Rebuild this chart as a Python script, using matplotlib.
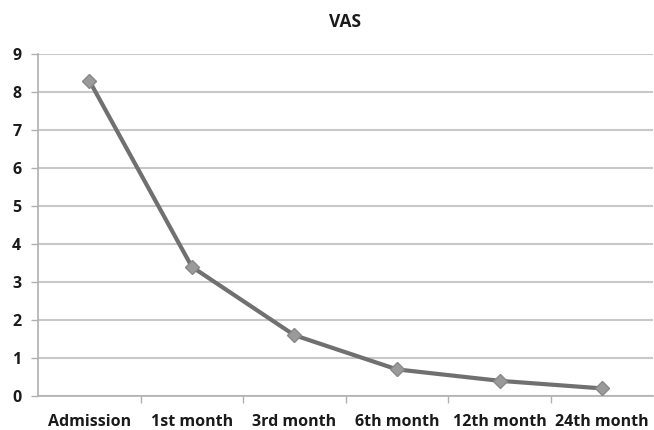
import matplotlib
matplotlib.use("Agg")
import matplotlib.pyplot as plt
import numpy as np

categories = ["Admission", "1st month", "3rd month", "6th month", "12th month", "24th month"]
vas = [8.3, 3.4, 1.6, 0.7, 0.4, 0.2]
yticks = [0, 1, 2, 3, 4, 5, 6, 7, 8, 9]

plt.rcParams['font.family'] = ['Open Sans', 'DejaVu Sans']

fig = plt.figure(figsize=(6.54, 4.30), dpi=100)
ax = fig.add_axes([38/654, 1-396/430, 1-38/654-0.001, (396-54)/430])

x = np.arange(len(categories))
ax.plot(x, vas, color='#707070', lw=3, marker='D', markersize=7,
        markerfacecolor='#9a9a9a', markeredgecolor='#888888', zorder=3, clip_on=False)

ax.set_xlim(-0.5, len(categories) - 0.5)
ax.set_ylim(0, 9)
ax.set_yticks(yticks)
ax.set_yticklabels([str(t) for t in yticks], fontsize=11.5, fontweight='bold', color='#1a1a1a')
ax.set_xticks(x)
ax.set_xticklabels(categories, fontsize=11.5, fontweight='bold', color='#1a1a1a')
ax.tick_params(axis='x', length=0, pad=13)
ax.set_xticks(np.arange(0.5, len(categories) - 1, 1), minor=True)
ax.tick_params(axis='x', which='minor', length=5, color='#b0b0b0', width=1, direction='out')
ax.tick_params(axis='y', length=5, color='#b0b0b0', width=1, pad=7)

ax.grid(axis='y', color='#c8c8c8', lw=1.5)
ax.set_axisbelow(True)
for s in ['top', 'right']:
    ax.spines[s].set_visible(False)
for s in ['left', 'bottom']:
    ax.spines[s].set_color('#b0b0b0')
    ax.spines[s].set_linewidth(1.2)

fig.text(345/654, 1-22/430, "VAS", ha='center', va='center', fontsize=12.5, fontweight='bold', color='#1a1a1a')

fig.savefig("out.png", dpi=100)
